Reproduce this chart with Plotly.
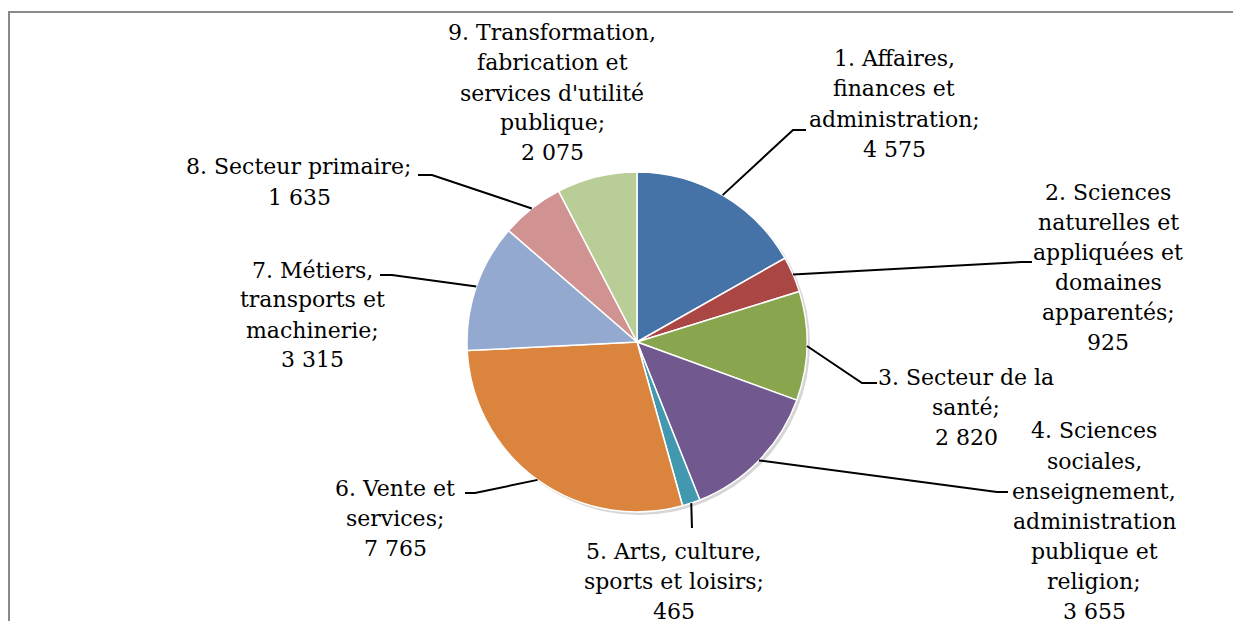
import math
import plotly.graph_objects as go

# ---------------- data ----------------
categories = [
    "1. Affaires, finances et administration",
    "2. Sciences naturelles et appliquées et domaines apparentés",
    "3. Secteur de la santé",
    "4. Sciences sociales, enseignement, administration publique et religion",
    "5. Arts, culture, sports et loisirs",
    "6. Vente et services",
    "7. Métiers, transports et machinerie",
    "8. Secteur primaire",
    "9. Transformation, fabrication et services d'utilité publique",
]
values = [4575, 925, 2820, 3655, 465, 7765, 3315, 1635, 2075]

# wrapped display text of each category (as in the reference)
label_lines = [
    ["1. Affaires,", "finances et", "administration;"],
    ["2. Sciences", "naturelles et", "appliquées et", "domaines", "apparentés;"],
    ["3. Secteur de la", "santé;"],
    ["4. Sciences", "sociales,", "enseignement,", "administration", "publique et", "religion;"],
    ["5. Arts, culture,", "sports et loisirs;"],
    ["6. Vente et", "services;"],
    ["7. Métiers,", "transports et", "machinerie;"],
    ["8. Secteur primaire;"],
    ["9. Transformation,", "fabrication et", "services d'utilité", "publique;"],
]

# ---------------- styles / layout ----------------
colors = ["#4572A7", "#AA4643", "#89A54E", "#71588F", "#4198AF",
          "#DB843D", "#93A9CF", "#D19392", "#B9CD96"]

PAGE_W, PAGE_H = 1241, 621
OFF = 8                              # default page body margin
W, H = PAGE_W - OFF, PAGE_H - OFF    # figure size
CX, CY, R = 637, 342, 170            # pie centre / radius (page pixels)
FONT = "DejaVu Serif"
FSIZE = 22
LINE_H = 30

# label block position: (centre x, first line centre y) in page pixels
label_pos = [(894, 59), (1108, 192), (966, 377), (1094, 431), (674, 551),
             (395, 488), (312, 270), (299, 167), (552, 33)]
# leader line path after the slice edge point (page pixels); None = no leader
leader_pts = [
    [(793, 130), (806, 130)],
    [(1022, 262), (1032, 262)],
    [(862, 383), (877, 383)],
    [(997, 492), (1008, 492)],
    [(692, 528)],
    [(475, 493), (465, 493)],
    [(392, 275), (380, 275)],
    [(432, 175), (418, 175)],
    None,
]


def px(x):
    return (x - OFF) / W


def py(y):
    return 1 - (y - OFF) / H


def fmt(v):
    return f"{v:,}".replace(",", " ")


fig = go.Figure()
fig.add_trace(go.Pie(
    labels=categories,
    values=values,
    sort=False,
    direction="clockwise",
    rotation=0,
    textinfo="none",
    showlegend=False,
    marker=dict(colors=colors, line=dict(color="white", width=1.5)),
    domain=dict(x=[px(CX - R), px(CX + R)], y=[py(CY + R), py(CY - R)]),
    hovertemplate="%{label}: %{value}<extra></extra>",
))

annotations = []
shapes = []

# frame
shapes.append(dict(type="rect", xref="paper", yref="paper",
                   x0=px(9), x1=px(PAGE_W + 20), y0=py(12), y1=py(PAGE_H + 20),
                   line=dict(color="#8a8a8a", width=2), layer="below"))
# subtle pie shadow
shapes.append(dict(type="circle", xref="paper", yref="paper",
                   x0=px(CX - R + 2), x1=px(CX + R + 3),
                   y0=py(CY + R + 3), y1=py(CY - R + 2),
                   fillcolor="#d6d6d6", line=dict(width=0), layer="below"))

total = sum(values)
cum = 0
for i, v in enumerate(values):
    mid = (cum + v / 2) / total * 2 * math.pi
    cum += v
    sx = CX + R * math.sin(mid)
    sy = CY - R * math.cos(mid)
    lines = label_lines[i] + [fmt(v)]
    lx, ly = label_pos[i]
    for k, t in enumerate(lines):
        annotations.append(dict(
            x=px(lx), y=py(ly + k * LINE_H), xref="paper", yref="paper",
            text=t, showarrow=False, xanchor="center", yanchor="middle",
            font=dict(family=FONT, size=FSIZE, color="black")))
    if leader_pts[i]:
        pts = [(sx, sy)] + leader_pts[i]
        path = "M " + " L ".join(f"{px(x):.5f},{py(y):.5f}" for x, y in pts)
        shapes.append(dict(type="path", xref="paper", yref="paper", path=path,
                           line=dict(color="black", width=2)))

fig.update_layout(
    width=W, height=H,
    margin=dict(l=0, r=0, t=0, b=0),
    paper_bgcolor="white", plot_bgcolor="white",
    font=dict(family=FONT),
    annotations=annotations, shapes=shapes,
)

fig.write_html("out.html")
